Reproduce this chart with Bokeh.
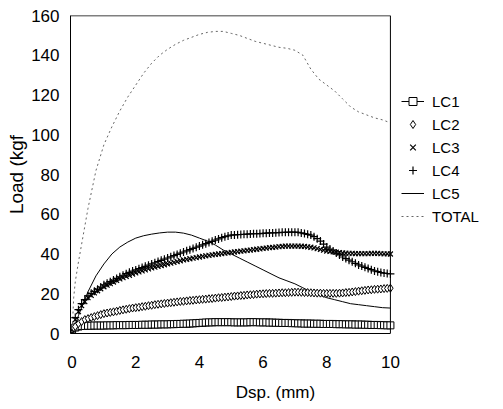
from bokeh.plotting import figure
from bokeh.models import Legend, LegendItem, Range1d, FixedTicker, Span
from bokeh.embed import file_html
from bokeh.resources import INLINE

# coarse abscissa for the line series (mm)
X_MM = [0, 0.05, 0.1, 0.2, 0.3, 0.4, 0.5, 0.75, 1.0, 1.25, 1.5, 1.75, 2.0, 2.25, 2.5,
        2.75, 3.0, 3.25, 3.5, 3.75, 4.0, 4.25, 4.5, 4.75, 5.0, 5.25, 5.5, 5.75, 6.0,
        6.25, 6.5, 6.75, 7.0, 7.25, 7.5, 7.75, 8.0, 8.25, 8.5, 8.75, 9.0, 9.25, 9.5,
        9.75, 10.0]

# dense abscissa for the marker series (mm)
X_DENSE = [0.0, 0.1, 0.2, 0.3, 0.4, 0.5, 0.6, 0.7, 0.8, 0.9,
           1.0, 1.1, 1.2, 1.3, 1.4, 1.5, 1.6, 1.7, 1.8, 1.9,
           2.0, 2.1, 2.2, 2.3, 2.4, 2.5, 2.6, 2.7, 2.8, 2.9,
           3.0, 3.1, 3.2, 3.3, 3.4, 3.5, 3.6, 3.7, 3.8, 3.9,
           4.0, 4.1, 4.2, 4.3, 4.4, 4.5, 4.6, 4.7, 4.8, 4.9,
           5.0, 5.1, 5.2, 5.3, 5.4, 5.5, 5.6, 5.7, 5.8, 5.9,
           6.0, 6.1, 6.2, 6.3, 6.4, 6.5, 6.6, 6.7, 6.8, 6.9,
           7.0, 7.1, 7.2, 7.3, 7.4, 7.5, 7.6, 7.7, 7.8, 7.9,
           8.0, 8.1, 8.2, 8.3, 8.4, 8.5, 8.6, 8.7, 8.8, 8.9,
           9.0, 9.1, 9.2, 9.3, 9.4, 9.5, 9.6, 9.7, 9.8, 9.9,
           10.0]

LC1 = [0, 3.0, 3.5, 3.8, 3.8, 3.9, 3.9, 4.0, 4.0, 4.0,
       4.0, 4.1, 4.1, 4.1, 4.2, 4.2, 4.2, 4.2, 4.3, 4.3,
       4.3, 4.3, 4.4, 4.4, 4.4, 4.5, 4.5, 4.5, 4.6, 4.6,
       4.6, 4.7, 4.7, 4.8, 4.8, 4.9, 4.9, 5.0, 5.1, 5.2,
       5.3, 5.4, 5.5, 5.6, 5.6, 5.7, 5.7, 5.7, 5.7, 5.7,
       5.7, 5.6, 5.6, 5.6, 5.6, 5.6, 5.7, 5.7, 5.7, 5.6,
       5.6, 5.6, 5.5, 5.5, 5.4, 5.4, 5.3, 5.3, 5.3, 5.2,
       5.2, 5.1, 5.1, 5.0, 5.0, 5.0, 4.9, 4.9, 4.9, 4.8,
       4.8, 4.8, 4.8, 4.7, 4.7, 4.7, 4.6, 4.6, 4.6, 4.5,
       4.5, 4.5, 4.4, 4.4, 4.3, 4.3, 4.3, 4.2, 4.2, 4.1,
       4.1]
LC2 = [0, 3.5, 5, 6, 7, 7.5, 8, 8.5, 9, 9.5,
       10, 10.3, 10.6, 10.9, 11.2, 11.6, 11.9, 12.2, 12.5, 12.8,
       13, 13.2, 13.5, 13.7, 14.0, 14.2, 14.5, 14.7, 14.9, 15.1,
       15.3, 15.5, 15.7, 15.9, 16.1, 16.2, 16.4, 16.6, 16.7, 16.9,
       17, 17.2, 17.3, 17.5, 17.6, 17.8, 18.0, 18.1, 18.3, 18.4,
       18.6, 18.8, 18.9, 19.1, 19.2, 19.4, 19.5, 19.6, 19.8, 19.9,
       20, 20.1, 20.2, 20.2, 20.3, 20.4, 20.5, 20.5, 20.6, 20.7,
       20.8, 20.8, 20.7, 20.6, 20.6, 20.5, 20.4, 20.3, 20.3, 20.2,
       20.2, 20.2, 20.2, 20.2, 20.3, 20.4, 20.6, 20.7, 20.9, 21.1,
       21.3, 21.5, 21.7, 21.9, 22.0, 22.2, 22.3, 22.4, 22.6, 22.7,
       22.8]
LC3 = [0, 7, 11, 14, 16, 18, 19.2, 20.4, 21.5, 22.5,
       23.5, 24.3, 25.1, 25.9, 26.7, 27.5, 28.1, 28.7, 29.3, 29.9,
       30.5, 31.0, 31.5, 32.0, 32.5, 33, 33.4, 33.8, 34.2, 34.6,
       35, 35.4, 35.8, 36.2, 36.6, 37, 37.3, 37.6, 37.9, 38.2,
       38.5, 38.8, 39.1, 39.3, 39.6, 39.8, 40.0, 40.2, 40.4, 40.6,
       40.8, 41.0, 41.2, 41.4, 41.6, 41.8, 42.0, 42.2, 42.4, 42.6,
       42.8, 43.0, 43.2, 43.3, 43.5, 43.7, 43.8, 44, 44, 44,
       44, 44, 43.9, 43.8, 43.6, 43.4, 43.1, 42.7, 42.3, 41.9,
       41.5, 41.3, 41.1, 40.9, 40.7, 40.5, 40.4, 40.3, 40.3, 40.2,
       40.2, 40.2, 40.2, 40.2, 40.3, 40.3, 40.3, 40.2, 40.1, 40.1,
       40]
LC4 = [0, 8, 12, 15, 17, 19, 20.2, 21.2, 22.3, 23.4,
       24.5, 25.3, 26.1, 26.9, 27.7, 28.5, 29.3, 30.1, 30.8, 31.4,
       32, 32.6, 33.2, 33.8, 34.4, 35, 35.6, 36.2, 36.8, 37.4,
       38, 38.6, 39.2, 39.8, 40.4, 41, 41.6, 42.2, 42.8, 43.4,
       44, 44.6, 45.2, 45.8, 46.4, 47, 47.6, 48.2, 48.7, 49.1,
       49.5, 49.6, 49.7, 49.8, 49.9, 50, 50.1, 50.2, 50.2, 50.3,
       50.4, 50.5, 50.6, 50.6, 50.7, 50.8, 50.9, 50.9, 51, 51,
       51, 50.9, 50.6, 50.3, 49.9, 49.5, 48.7, 47.7, 46.5, 45,
       43.5, 42.5, 41.5, 40.5, 39.5, 38.5, 37.7, 36.9, 36.1, 35.3,
       34.5, 33.9, 33.3, 32.7, 32.1, 31.5, 31.1, 30.7, 30.4, 30.2,
       30]
LC5 = [0, 2, 4, 9, 13, 17, 21, 29, 35, 40, 43.5, 46, 48, 49.2, 50, 50.6, 51, 51, 50.5,
       49.5, 48, 46.5, 44.5, 42, 40, 38, 36, 34, 32, 30, 28, 26.5, 25, 23, 21, 19.5, 18,
       17, 16, 15, 14.5, 14, 13.5, 13, 12.8]
TOTAL = [0, 18, 26, 36, 45, 54, 63, 82, 95, 104, 112, 119, 125, 131, 136, 140, 143,
         145.5, 147.5, 149, 150.5, 151.5, 152, 152, 151, 150, 148.5, 147, 146, 145, 144,
         143.5, 142.5, 140, 133, 128, 125, 122, 118, 114, 111.5, 110, 108.5, 107.5, 106]

X_TICKS = [0, 2, 4, 6, 8, 10]
Y_TICKS = [0, 20, 40, 60, 80, 100, 120, 140, 160]
X_MIN, X_MAX = -0.05, 10.0
Y_MIN, Y_MAX = 0, 160

FONT = "Liberation Sans"

# the frame extends to the right so the legend can sit beside the data box
p = figure(width=487, height=407, output_backend="svg", toolbar_location=None,
           x_range=Range1d(X_MIN, 12.83), y_range=Range1d(Y_MIN, Y_MAX),
           min_border_left=70, min_border_top=15, min_border_right=7,
           min_border_bottom=74)
p.grid.visible = False
p.outline_line_color = None
p.background_fill_color = "white"
p.border_fill_color = "white"

bx = p.xaxis[0]
ly = p.yaxis[0]

for ax in (bx, ly):
    ax.major_tick_line_color = None
    ax.minor_tick_line_color = None
    ax.major_tick_out = 0
    ax.major_tick_in = 0
    ax.minor_tick_out = 0
    ax.minor_tick_in = 0
    ax.axis_line_color = "black"
    ax.major_label_text_font = FONT
    ax.major_label_text_font_size = "17px"
    ax.major_label_text_color = "black"
    ax.axis_label_text_font = FONT
    ax.axis_label_text_font_style = "normal"
    ax.axis_label_text_color = "black"

bx.bounds = (X_MIN, X_MAX)
bx.ticker = FixedTicker(ticks=X_TICKS)
ly.ticker = FixedTicker(ticks=Y_TICKS)
bx.major_label_standoff = 22
ly.major_label_standoff = 11
bx.axis_label = "Dsp. (mm)"
ly.axis_label = "Load (kgf"
bx.axis_label_text_font_size = "17px"
ly.axis_label_text_font_size = "19px"
bx.axis_label_standoff = 12
ly.axis_label_standoff = 1

# top and right edges of the data box
p.segment(x0=[X_MIN], y0=[Y_MAX], x1=[X_MAX], y1=[Y_MAX], line_color="black",
          line_width=1.5)
p.add_layout(Span(location=X_MAX, dimension="height", line_color="black",
                  line_width=1))

r_tot = p.line(X_MM, TOTAL, line_color="#666666", line_width=1, line_dash="2 3")
r_lc5 = p.line(X_MM, LC5, line_color="black", line_width=1)

r1l = p.line(X_DENSE, LC1, line_color="black", line_width=1)
r1 = p.scatter(X_DENSE, LC1, marker="square", size=7, fill_color="white",
               line_color="black", line_width=1)
r2 = p.scatter(X_DENSE, LC2, marker="diamond", size=8, fill_color="white",
               line_color="black", line_width=1)
r3 = p.scatter(X_DENSE, LC3, marker="x", size=7, line_color="black", line_width=1.2)
r4 = p.scatter(X_DENSE, LC4, marker="cross", size=8, line_color="black", line_width=1.2)

legend = Legend(items=[
    LegendItem(label="LC1", renderers=[r1l, r1]),
    LegendItem(label="LC2", renderers=[r2]),
    LegendItem(label="LC3", renderers=[r3]),
    LegendItem(label="LC4", renderers=[r4]),
    LegendItem(label="LC5", renderers=[r_lc5]),
    LegendItem(label="TOTAL", renderers=[r_tot]),
], location=(331, 107))
legend.border_line_color = None
legend.background_fill_alpha = 0
legend.margin = 0
legend.padding = 0
legend.spacing = 3
legend.glyph_height = 20
legend.glyph_width = 23
legend.label_height = 20
legend.label_standoff = 8
legend.label_text_font = FONT
legend.label_text_font_size = "15px"
legend.label_text_color = "black"
p.add_layout(legend, "center")

open("out.html", "w").write(file_html(p, INLINE))
